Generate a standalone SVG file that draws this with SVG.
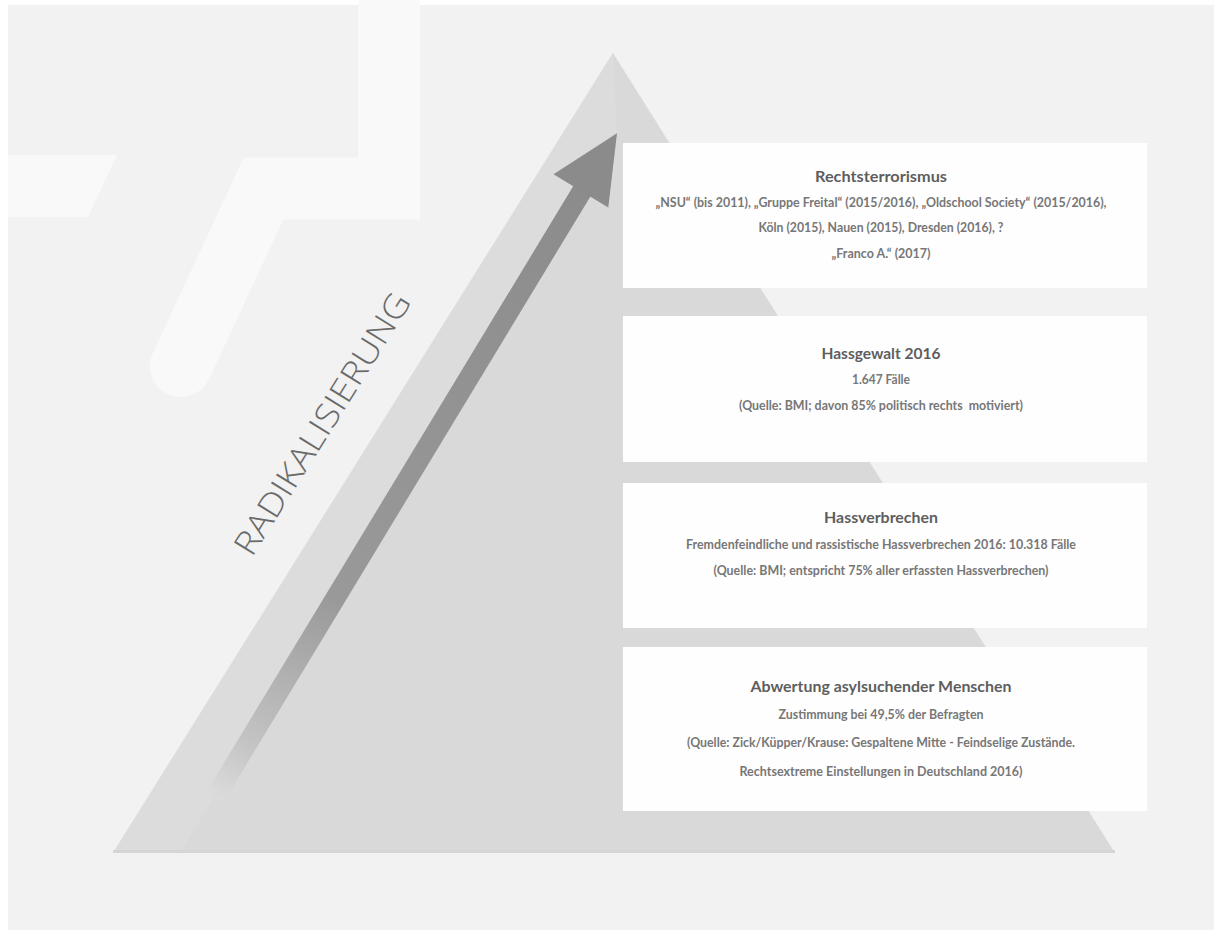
<svg xmlns="http://www.w3.org/2000/svg" width="1214" height="930" viewBox="0 0 1214 930">
  <style>
    .box { fill: #fefefe; }
    .title { font-family: "Lato", "Liberation Sans", sans-serif; font-weight: 700; font-size: 16px; fill: #5e5e5e; text-anchor: middle; }
    .body { font-family: "Lato", "Liberation Sans", sans-serif; font-weight: 700; font-size: 12.5px; fill: #777777; text-anchor: middle; }
    .radi { font-family: "Open Sans", "Liberation Sans", sans-serif; font-weight: 300; font-size: 33px; fill: #6a6a6a; }
  </style>
  <defs>
    <linearGradient id="shaftGrad" gradientUnits="userSpaceOnUse" x1="0" y1="0" x2="776" y2="0">
      <stop offset="0" stop-color="#dcdcdc"/>
      <stop offset="0.08" stop-color="#c4c4c4"/>
      <stop offset="0.3" stop-color="#999999"/>
      <stop offset="1" stop-color="#8a8a8a"/>
    </linearGradient>
  </defs>

  <!-- background -->
  <rect x="0" y="0" width="1214" height="930" fill="#ffffff"/>
  <rect x="8" y="5" width="1206" height="925" fill="#f2f2f2"/>

  <!-- decorative light shapes -->
  <g id="decoration" fill="#f9f9f9">
    <path d="M389,5 V188.5 H263.5 L181,366" fill="none" stroke="#f9f9f9" stroke-width="62" stroke-linecap="round" stroke-linejoin="miter"/>
    <polygon points="8,155 117,155 88,217 8,217"/>
  </g>

  <!-- pyramid -->
  <g id="pyramid">
    <polygon points="613,53 1115,853 113,853" fill="#d9d9d9"/>
    <polygon points="613,53 617,133 180,853 113,853" fill="#dcdcdc"/>
    <rect x="113" y="850" width="1002" height="3" fill="#d5d5d5"/>
  </g>

  <!-- radicalisation arrow -->
  <g id="connectors">
    <g transform="translate(215,797) rotate(-58.8)">
      <rect x="0" y="-10" width="712" height="20" fill="url(#shaftGrad)"/>
      <polygon points="708,-33 776,0 708,31" fill="#8b8b8b"/>
    </g>
  </g>

  <g id="label-radikalisierung">
    <text class="radi" transform="translate(252,558) rotate(-58)" textLength="302" lengthAdjust="spacingAndGlyphs">RADIKALISIERUNG</text>
  </g>

  <!-- boxes -->
  <g id="node-rechtsterrorismus">
    <rect class="box" x="623" y="143" width="524" height="145"/>
    <text class="title" x="881" y="182" textLength="132" lengthAdjust="spacingAndGlyphs">Rechtsterrorismus</text>
    <text class="body" x="881" y="207" textLength="451" lengthAdjust="spacingAndGlyphs">„NSU“ (bis 2011), „Gruppe Freital“ (2015/2016), „Oldschool Society“ (2015/2016),</text>
    <text class="body" x="881" y="232" textLength="245" lengthAdjust="spacingAndGlyphs">Köln (2015), Nauen (2015), Dresden (2016), ?</text>
    <text class="body" x="881" y="258" textLength="99" lengthAdjust="spacingAndGlyphs">„Franco A.“ (2017)</text>
  </g>

  <g id="node-hassgewalt">
    <rect class="box" x="623" y="316" width="524" height="146"/>
    <text class="title" x="881" y="359" textLength="119" lengthAdjust="spacingAndGlyphs">Hassgewalt 2016</text>
    <text class="body" x="881" y="384" textLength="58" lengthAdjust="spacingAndGlyphs">1.647 Fälle</text>
    <text class="body" x="881" y="410" textLength="284" lengthAdjust="spacingAndGlyphs" xml:space="preserve">(Quelle: BMI; davon 85% politisch rechts  motiviert)</text>
  </g>

  <g id="node-hassverbrechen">
    <rect class="box" x="623" y="483" width="524" height="145"/>
    <text class="title" x="881" y="523" textLength="114" lengthAdjust="spacingAndGlyphs">Hassverbrechen</text>
    <text class="body" x="881" y="549" textLength="390" lengthAdjust="spacingAndGlyphs">Fremdenfeindliche und rassistische Hassverbrechen 2016: 10.318 Fälle</text>
    <text class="body" x="881" y="575" textLength="335" lengthAdjust="spacingAndGlyphs">(Quelle: BMI; entspricht 75% aller erfassten Hassverbrechen)</text>
  </g>

  <g id="node-abwertung">
    <rect class="box" x="623" y="647" width="524" height="164"/>
    <text class="title" x="881" y="692" textLength="261" lengthAdjust="spacingAndGlyphs">Abwertung asylsuchender Menschen</text>
    <text class="body" x="881" y="719" textLength="205" lengthAdjust="spacingAndGlyphs">Zustimmung bei 49,5% der Befragten</text>
    <text class="body" x="881" y="747" textLength="388" lengthAdjust="spacingAndGlyphs">(Quelle: Zick/Küpper/Krause: Gespaltene Mitte - Feindselige Zustände.</text>
    <text class="body" x="881" y="776" textLength="283" lengthAdjust="spacingAndGlyphs">Rechtsextreme Einstellungen in Deutschland 2016)</text>
  </g>
</svg>
